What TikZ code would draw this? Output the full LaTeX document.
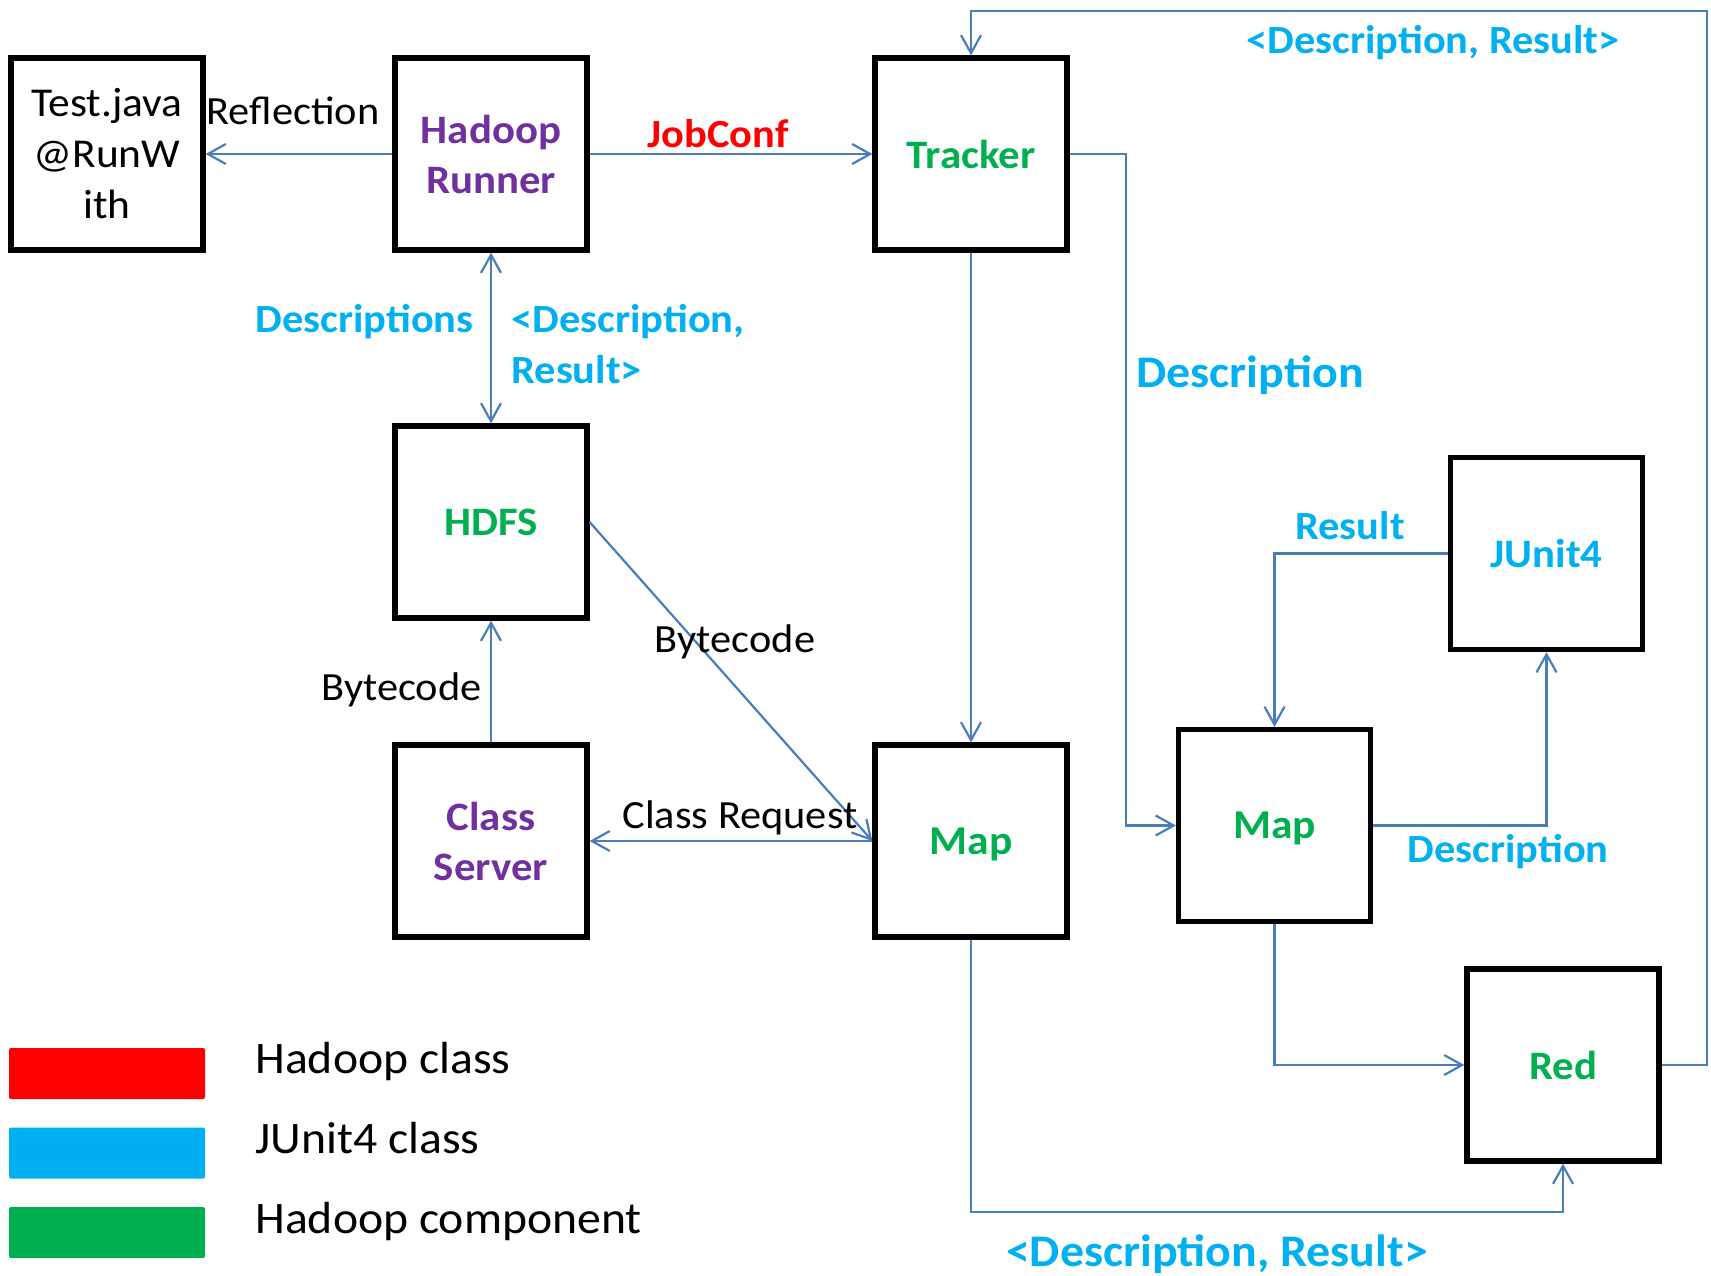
\documentclass[tikz,border=0pt]{standalone}
\usepackage{fontspec}
\setmainfont[FakeStretch=1.06]{Carlito}
\usetikzlibrary{arrows.meta}
\definecolor{hpurple}{HTML}{7030A0}
\definecolor{hred}{HTML}{FF0000}
\definecolor{jcyan}{HTML}{00B0F0}
\definecolor{hgreen}{HTML}{00B050}
\definecolor{wire}{HTML}{4A7EBB}
\begin{document}
\begin{tikzpicture}[x=0.5pt,y=-0.5pt,
  box/.style={draw,line width=2.6pt,minimum width=96pt,minimum height=96pt,inner sep=0pt,align=center,font=\fontsize{20.2}{25}\selectfont\bfseries},
  link/.style={wire,line width=1.1pt,-{Straight Barb[length=9pt,width=10pt]}},
  lbl/.style={anchor=base,inner sep=0pt,font=\fontsize{20}{25}\selectfont},
  jlbl/.style={anchor=base,inner sep=0pt,text=jcyan,font=\fontsize{20}{25.5}\selectfont\bfseries},
  biglbl/.style={font=\fontsize{22.6}{28}\selectfont\bfseries},
  swatch/.style={minimum width=98pt,minimum height=25.5pt,inner sep=0pt,rounded corners=1pt},
  keytext/.style={anchor=base west,inner sep=0pt,font=\fontsize{22.5}{27}\selectfont}]
  \useasboundingbox (0,0) rectangle (1711,1275);

  % components
  \node[box,font=\fontsize{20.5}{25.5}\selectfont] (test) at (107,154) {Test.java\\@RunW\\ith};
  \node[box,text=hpurple] (runner) at (491,154) {Hadoop\\Runner};
  \node[box,text=hgreen] (tracker) at (971,154) {Tracker};
  \node[box,text=hgreen] (hdfs) at (491,522) {HDFS};
  \node[box,text=hpurple] (server) at (491,841) {Class\\Server};
  \node[box,text=hgreen,text depth=0pt,font=\fontsize{20.5}{25}\selectfont\bfseries] (map) at (971,841) {Map};
  \node[box,text=hgreen,text depth=0pt,font=\fontsize{20.5}{25}\selectfont\bfseries] (map2) at (1274.5,825.5) {Map};
  \node[box,text=jcyan] (junit) at (1546.5,553.5) {JUnit4};
  \node[box,text=hgreen] (red) at (1563,1065) {Red};
  \coordinate (corner) at (1707,11);

  % connectors
  \draw[link] (runner) -- (test);
  \draw[link] (runner) -- (tracker);
  \draw[link,{Straight Barb[length=9pt,width=10pt]}-{Straight Barb[length=9pt,width=10pt]}] (runner) -- (hdfs);
  \draw[link] (server) -- (hdfs);
  \draw[link] (hdfs.east) -- (map.west);
  \draw[link] (map) -- (server);
  \draw[link] (tracker) -- (map);
  \draw[link] (tracker.east) -- ++(56,0) |- (map2.west);
  \draw[link] (map2.east) -| (junit.south);
  \draw[link] (junit.west) -| (map2.north);
  \draw[link] (map2.south) |- (red.west);
  \draw[link] (map.south) -- ++(0,272) -| (red.south);
  \draw[link] (red.east) -| (corner) -| (tracker.north);

  % labels
  \node[lbl] (reflection) at (293,124) {Reflection};
  \node[jlbl,text=hred] (jobconf) at (718,147) {JobConf};
  \node[jlbl,anchor=base east] (descs) at (474,332) {Descriptions};
  \node[jlbl,anchor=base west] (pair1) at (511,332) {<Description,};
  \node[jlbl,anchor=base west] (pair1b) at (511,383) {Result>};
  \node[lbl,anchor=base east] (byte1) at (482,700) {Bytecode};
  \node[lbl] (byte2) at (735,652) {Bytecode};
  \node[lbl] (request) at (740,828) {Class Request};
  \node[jlbl,biglbl,anchor=base west] (desc1) at (1136,387) {Description};
  \node[jlbl] (result) at (1350,539) {Result};
  \node[jlbl] (desc2) at (1508,862) {Description};
  \node[jlbl] (pair2) at (1433,53) {<Description, Result>};
  \node[jlbl,biglbl] (pair3) at (1217,1266) {<Description, Result>};

  % legend
  \node[swatch,fill=hred] (keyred) at (107,1073.5) {};
  \node[swatch,fill=jcyan] (keycyan) at (107,1153) {};
  \node[swatch,fill=hgreen] (keygreen) at (107,1232.5) {};
  \node[keytext] (keyredtext) at (255,1073) {Hadoop class};
  \node[keytext] (keycyantext) at (255,1153) {JUnit4 class};
  \node[keytext] (keygreentext) at (255,1233) {Hadoop component};
\end{tikzpicture}
\end{document}
